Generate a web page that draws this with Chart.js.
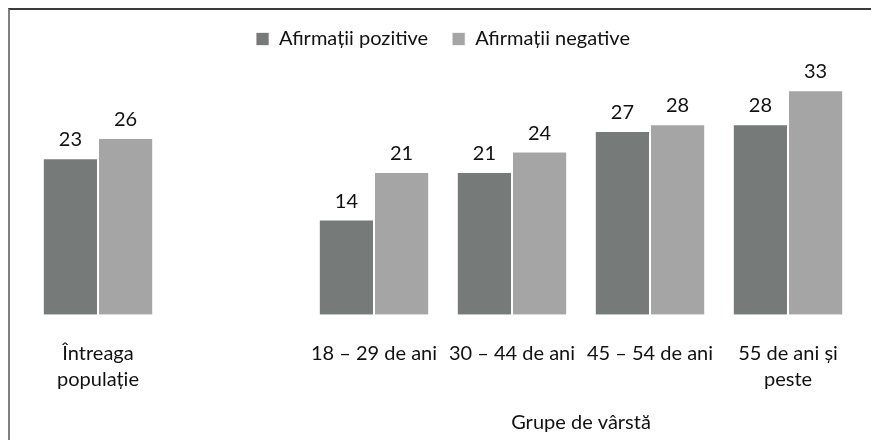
<!DOCTYPE html>
<html>
<head>
<meta charset="utf-8">
<script src="https://cdn.jsdelivr.net/npm/chart.js@4"></script>
<style>
  body { margin: 0; background: #fff; }
  #wrap { position: relative; width: 871px; height: 440px; overflow: hidden; }
  #frame { position: absolute; left: 8px; top: 8px; width: 900px; height: 500px;
           border-top: 2px solid #3a3a3a; border-left: 2px solid #808080; }
  canvas { position: absolute; left: 0; top: 0; }
</style>
</head>
<body>
<div id="wrap">
  <div id="frame"></div>
  <canvas id="grafic" width="871" height="440"></canvas>
</div>
<script>
// categorii (slotul gol separa populatia totala de grupele de varsta)
var categorii = [["Întreaga", "populație"], "", "18 – 29 de ani", "30 – 44 de ani", "45 – 54 de ani", ["55 de ani și", "peste"]];
var pozitive = [23, null, 14, 21, 27, 28];
var negative = [26, null, 21, 24, 28, 33];
var titluAxa = "Grupe de vârstă";

var fontul = "Lato, 'Open Sans', sans-serif";

// etichete cu valori deasupra barelor
var eticheteValori = {
    id: "eticheteValori",
    afterDatasetsDraw: function (chart) {
        var ctx = chart.ctx;
        ctx.save();
        ctx.font = "20px " + fontul;
        ctx.fillStyle = "#111";
        ctx.textAlign = "center";
        ctx.textBaseline = "alphabetic";
        chart.data.datasets.forEach(function (ds, i) {
            chart.getDatasetMeta(i).data.forEach(function (bar, j) {
                if (ds.data[j] == null) return;
                ctx.fillText(ds.data[j], bar.x, bar.y - 12);
            });
        });
        ctx.restore();
    }
};

// titlul axei, centrat doar sub grupele de varsta
var titluGrupe = {
    id: "titluGrupe",
    afterDraw: function (chart) {
        var x = chart.scales.x;
        var ctx = chart.ctx;
        var mijloc = (x.getPixelForValue(2) + x.getPixelForValue(5)) / 2;
        ctx.save();
        ctx.font = "20px " + fontul;
        ctx.fillStyle = "#111";
        ctx.textAlign = "center";
        ctx.textBaseline = "middle";
        ctx.fillText(titluAxa, mijloc, 423);
        ctx.restore();
    }
};

new Chart(document.getElementById("grafic"), {
    type: "bar",
    data: {
        labels: categorii,
        datasets: [
            {
                label: "Afirmații pozitive",
                data: pozitive,
                backgroundColor: "#767b7a",
                borderColor: "rgba(255,255,255,0.7)",
                borderWidth: 1
            },
            {
                label: "Afirmații negative",
                data: negative,
                backgroundColor: "#a5a5a5",
                borderColor: "rgba(255,255,255,0.7)",
                borderWidth: 1
            }
        ]
    },
    options: {
        responsive: false,
        animation: false,
        layout: { padding: { left: 29, right: 14, top: 5, bottom: 30 } },
        datasets: { bar: { categoryPercentage: 0.8, barPercentage: 1.0 } },
        plugins: {
            legend: {
                display: true,
                labels: {
                    boxWidth: 13,
                    boxHeight: 13,
                    padding: 24,
                    color: "#111",
                    font: { family: fontul, size: 20 }
                }
            },
            tooltip: { enabled: false }
        },
        scales: {
            x: {
                grid: { display: false },
                border: { display: false },
                ticks: {
                    color: "#111",
                    padding: 18,
                    maxRotation: 0,
                    autoSkip: false,
                    font: { family: fontul, size: 20, lineHeight: 1.28 }
                }
            },
            y: {
                display: false,
                min: 0,
                max: 37.6
            }
        }
    },
    plugins: [eticheteValori, titluGrupe]
});
</script>
</body>
</html>
